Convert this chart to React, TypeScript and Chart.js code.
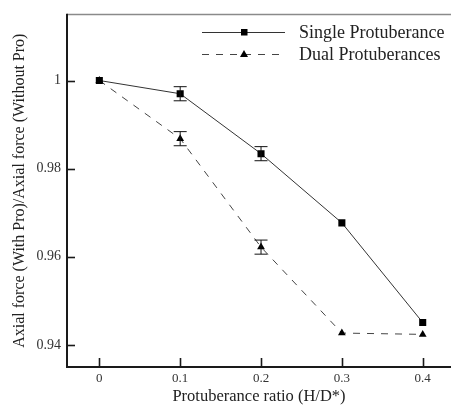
import React, { useEffect, useRef } from 'react';
import { Chart, registerables } from 'chart.js';

Chart.register(...registerables);

const ratios = [0, 0.1, 0.2, 0.3, 0.4];
const singleValues = [1.0, 0.997, 0.9834, 0.9677, 0.9451];
const dualValues = [1.0, 0.9868, 0.9622, 0.9427, 0.9424];
const singleErrors = [0, 0.0016, 0.0016, 0, 0];
const dualErrors = [0, 0.0016, 0.0016, 0, 0];
const seriesNames = ['Single Protuberance', 'Dual Protuberances'];
const xTickLabels = ['0', '0.1', '0.2', '0.3', '0.4'];
const xTickValues = [0, 0.1, 0.2, 0.3, 0.4];
const yTickLabels = ['0.94', '0.96', '0.98', '1'];
const yTickValues = [0.94, 0.96, 0.98, 1.0];
const xTitle = 'Protuberance ratio (H/D*)';
const yTitle = 'Axial force (With Pro)/Axial force (Without Pro)';

const X_MIN = -0.04;
const X_MAX = 0.435;
const X_STEP = 0.02;
const Y_MIN = 0.935;
const Y_MAX = 1.015;
const Y_STEP = 0.005;

const FONT = '"Liberation Serif", "Times New Roman", serif';

function findLabel(v: number, values: number[], labels: string[]) {
  for (let i = 0; i < values.length; i++) {
    if (Math.abs(values[i] - v) < 1e-7) return labels[i];
  }
  return null;
}

function tickRange(min: number, max: number, step: number) {
  const out: { value: number }[] = [];
  const n = Math.floor((max - min) / step + 1e-6);
  for (let i = 0; i <= n; i++) {
    out.push({ value: Math.round((min + i * step) * 1e6) / 1e6 });
  }
  return out;
}

const framePlugin = {
  id: 'frameAndExtras',
  afterDatasetsDraw(chart: any) {
    const { ctx, chartArea, scales } = chart;
    const xs = scales.x;
    const ys = scales.y;
    const { left, top, bottom, right } = chartArea;
    ctx.save();

    // error bars
    const errSets = [
      { values: singleValues, errors: singleErrors },
      { values: dualValues, errors: dualErrors },
    ];
    ctx.strokeStyle = '#111';
    ctx.lineWidth = 1;
    errSets.forEach((s) => {
      s.values.forEach((v, i) => {
        const e = s.errors[i];
        if (!e) return;
        const px = xs.getPixelForValue(ratios[i]);
        const pTop = ys.getPixelForValue(v + e);
        const pBot = ys.getPixelForValue(v - e);
        ctx.beginPath();
        ctx.moveTo(px, pTop);
        ctx.lineTo(px, pBot);
        ctx.moveTo(px - 6.5, pTop);
        ctx.lineTo(px + 6.5, pTop);
        ctx.moveTo(px - 6.5, pBot);
        ctx.lineTo(px + 6.5, pBot);
        ctx.stroke();
      });
    });

    // frame
    ctx.strokeStyle = '#8a8a8a';
    ctx.lineWidth = 1.5;
    ctx.beginPath();
    ctx.moveTo(left, top);
    ctx.lineTo(right + 2, top);
    ctx.stroke();

    ctx.strokeStyle = '#1a1a1a';
    ctx.lineWidth = 2;
    ctx.beginPath();
    ctx.moveTo(left, top - 0.75);
    ctx.lineTo(left, bottom);
    ctx.lineTo(right + 2, bottom);
    ctx.stroke();

    // y ticks (inward)
    ys.ticks.forEach((t: any) => {
      const v = t.value;
      const py = ys.getPixelForValue(v);
      if (py < top + 2 || py > bottom - 2) return;
      const major = Math.abs(v / 0.02 - Math.round(v / 0.02)) < 1e-6;
      ctx.lineWidth = major ? 1.6 : 1;
      ctx.beginPath();
      ctx.moveTo(left, Math.round(py) + 0.5);
      ctx.lineTo(left + (major ? 8 : 5), Math.round(py) + 0.5);
      ctx.stroke();
    });
    // x ticks (inward)
    xs.ticks.forEach((t: any) => {
      const v = t.value;
      const px = xs.getPixelForValue(v);
      if (px < left + 2 || px > right - 2) return;
      const major = Math.abs(v / 0.1 - Math.round(v / 0.1)) < 1e-6;
      ctx.lineWidth = major ? 1.6 : 1;
      ctx.beginPath();
      ctx.moveTo(Math.round(px) + 0.5, bottom);
      ctx.lineTo(Math.round(px) + 0.5, bottom - (major ? 9 : 5));
      ctx.stroke();
    });

    // legend
    const rows = [
      { y: 32, dash: [] as number[], marker: 'square', color: '#333' },
      { y: 54, dash: [7, 7], marker: 'triangle', color: '#444' },
    ];
    rows.forEach((r, i) => {
      ctx.strokeStyle = r.color;
      ctx.lineWidth = 1;
      ctx.setLineDash(r.dash);
      ctx.beginPath();
      ctx.moveTo(202, r.y + 0.5);
      ctx.lineTo(285, r.y + 0.5);
      ctx.stroke();
      ctx.setLineDash([]);
      ctx.fillStyle = '#000';
      if (r.marker === 'square') {
        ctx.fillRect(241, r.y - 3, 6.5, 6.5);
      } else {
        ctx.beginPath();
        ctx.moveTo(244, r.y - 4);
        ctx.lineTo(248, r.y + 3);
        ctx.lineTo(240, r.y + 3);
        ctx.closePath();
        ctx.fill();
      }
      ctx.fillStyle = '#222';
      ctx.font = '18px ' + FONT;
      ctx.textBaseline = 'middle';
      ctx.textAlign = 'left';
      ctx.fillText(seriesNames[i], 299, r.y + 1);
    });

    ctx.restore();
  },
};

export default function App() {
  const ref = useRef<HTMLCanvasElement | null>(null);

  useEffect(() => {
    if (!ref.current) return;
    const chart = new Chart(ref.current, {
      type: 'line',
      data: {
        datasets: [
          {
            label: seriesNames[0],
            data: ratios.map((x, i) => ({ x, y: singleValues[i] })),
            borderColor: '#333',
            borderWidth: 1,
            pointStyle: 'rect',
            pointRadius: 5,
            pointBackgroundColor: '#000',
            pointBorderColor: '#000',
            pointBorderWidth: 0,
            fill: false,
            tension: 0,
          },
          {
            label: seriesNames[1],
            data: ratios.map((x, i) => ({ x, y: dualValues[i] })),
            borderColor: '#444',
            borderWidth: 1,
            borderDash: [7, 7],
            pointStyle: 'triangle',
            pointRadius: 4.5,
            pointBackgroundColor: '#000',
            pointBorderColor: '#000',
            pointBorderWidth: 0,
            fill: false,
            tension: 0,
          },
        ],
      },
      options: {
        animation: false,
        responsive: false,
        events: [],
        layout: { autoPadding: false, padding: { top: 12, left: 0, right: 0, bottom: 0 } },
        plugins: {
          legend: { display: false },
          tooltip: { enabled: false },
        },
        scales: {
          x: {
            type: 'linear',
            min: X_MIN,
            max: X_MAX,
            grid: { display: false, drawTicks: false },
            border: { display: false },
            afterBuildTicks: (s: any) => {
              s.ticks = tickRange(X_MIN, X_MAX, X_STEP);
            },
            ticks: {
              autoSkip: false,
              maxRotation: 0,
              padding: 4,
              color: '#333',
              font: { family: FONT, size: 13 },
              callback: (v: any) => findLabel(Number(v), xTickValues, xTickLabels),
            },
            title: {
              display: true,
              text: xTitle,
              color: '#222',
              font: { family: FONT, size: 16.5 },
              padding: { top: 0, bottom: 0 },
            },
            afterFit: (s: any) => {
              s.height = 40;
            },
          },
          y: {
            type: 'linear',
            min: Y_MIN,
            max: Y_MAX,
            grid: { display: false, drawTicks: false },
            border: { display: false },
            afterBuildTicks: (s: any) => {
              s.ticks = tickRange(Y_MIN, Y_MAX, Y_STEP);
            },
            ticks: {
              autoSkip: false,
              padding: 6,
              color: '#333',
              font: { family: FONT, size: 14 },
              callback: (v: any) => findLabel(Number(v), yTickValues, yTickLabels),
            },
            title: {
              display: true,
              text: yTitle,
              color: '#222',
              font: { family: FONT, size: 16 },
              padding: { top: 10.4, bottom: 0 },
            },
            afterFit: (s: any) => {
              s.width = 67;
            },
          },
        },
      },
      plugins: [framePlugin],
    });
    return () => chart.destroy();
  }, []);

  return (
    <div style={{ position: 'fixed', left: 0, top: 0, width: 451, height: 407, background: '#fff' }}>
      <canvas ref={ref} width={451} height={407} />
    </div>
  );
}
